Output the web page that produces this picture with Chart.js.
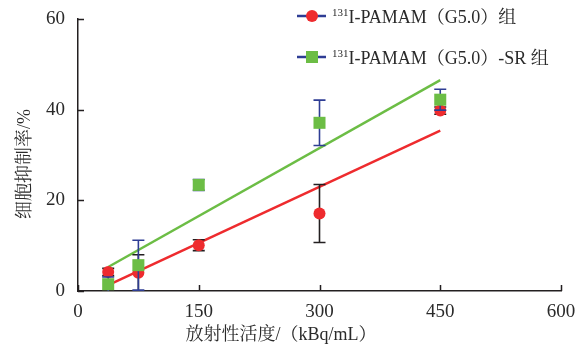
<!DOCTYPE html>
<html>
<head>
<meta charset="utf-8">
<script src="https://cdn.jsdelivr.net/npm/chart.js@4"></script>
<style>
  html, body { margin: 0; padding: 0; background: #fff; }
  #wrap { width: 583px; height: 353px; position: relative; }
</style>
</head>
<body>
<div id="wrap"><canvas id="chart"></canvas></div>
<script>
// activity (kBq/mL)
const doses = [37.5, 75, 150, 300, 450];
const pamamValues = [4.2, 4.0, 10.1, 17.1, 39.8];
const pamamErrors = [0.8, 4.0, 1.2, 6.4, 0.8];
const srValues = [1.5, 5.7, 23.4, 37.1, 42.2];
const srErrors = [1.6, 5.5, 1.2, 5.0, 2.3];
// fitted lines, endpoints
const fitX = [37.5, 450];
const pamamFit = [1.3, 35.4];
const srFit = [5.3, 46.5];
const xTicks = [0, 150, 300, 450, 600];
const yTicks = [0, 20, 40, 60];

const SERIF = "'Liberation Serif', 'Noto Serif CJK SC', 'Noto Sans CJK SC', serif";
const RED = '#ee2b2e';
const GREEN = '#6cbd45';
const BLUE = '#2e3d94';
const DARK = '#231f20';

const toPts = (xs, ys) => xs.map((x, i) => ({ x: x, y: ys[i] }));

// error bars, drawn just before each dataset's markers
const errorBars = {
  id: 'errorBars',
  beforeDatasetDraw(chart, args) {
    const ds = chart.data.datasets[args.index];
    if (!ds.errors) return;
    const ctx = chart.ctx;
    const y = chart.scales.y;
    ctx.save();
    ctx.strokeStyle = ds.errorColor;
    ctx.lineWidth = 1.6;
    args.meta.data.forEach((el, i) => {
      const v = ds.data[i].y, e = ds.errors[i];
      const top = y.getPixelForValue(v + e);
      const bot = Math.min(y.getPixelForValue(Math.max(v - e, 0)), chart.chartArea.bottom);
      ctx.beginPath();
      ctx.moveTo(el.x, top); ctx.lineTo(el.x, bot);
      ctx.moveTo(el.x - 6, top); ctx.lineTo(el.x + 6, top);
      if (v - e > 0) { ctx.moveTo(el.x - 6, bot); ctx.lineTo(el.x + 6, bot); }
      ctx.stroke();
    });
    ctx.restore();
  }
};

// inward ticks, axis titles and the legend
const decorations = {
  id: 'decorations',
  afterDraw(chart) {
    const ctx = chart.ctx;
    const a = chart.chartArea;
    const xs = chart.scales.x, ys = chart.scales.y;
    ctx.save();
    ctx.strokeStyle = DARK;
    ctx.lineWidth = 1.5;
    ctx.beginPath();
    xTicks.forEach(t => {
      const px = Math.round(xs.getPixelForValue(t)) + 0.5;
      ctx.moveTo(px, a.bottom); ctx.lineTo(px, a.bottom - 6);
    });
    yTicks.forEach(t => {
      const py = Math.round(ys.getPixelForValue(t)) + 0.5;
      ctx.moveTo(a.left, py); ctx.lineTo(a.left + 6, py);
    });
    ctx.stroke();

    ctx.fillStyle = '#2a2a2a';
    ctx.font = '18px ' + SERIF;
    ctx.textBaseline = 'middle';
    ctx.textAlign = 'center';
    ctx.fillText('放射性活度/（kBq/mL）', 281, 335);
    ctx.translate(25, 164);
    ctx.rotate(-Math.PI / 2);
    ctx.fillText('细胞抑制率/%', 0, 0);
    ctx.restore();

    // legend
    const items = [
      { label: 'I-PAMAM（G5.0）组', y: 16, style: 'circle', color: RED },
      { label: 'I-PAMAM（G5.0）-SR 组', y: 57, style: 'rect', color: GREEN }
    ];
    ctx.save();
    items.forEach(it => {
      ctx.strokeStyle = BLUE;
      ctx.lineWidth = 2.5;
      ctx.beginPath();
      ctx.moveTo(297, it.y); ctx.lineTo(326, it.y);
      ctx.stroke();
      ctx.fillStyle = it.color;
      ctx.beginPath();
      if (it.style === 'circle') ctx.arc(312, it.y, 6, 0, Math.PI * 2);
      else ctx.rect(306, it.y - 6, 12, 12);
      ctx.fill();
      ctx.fillStyle = '#2a2a2a';
      ctx.textAlign = 'left';
      ctx.textBaseline = 'alphabetic';
      ctx.font = '11px ' + SERIF;
      ctx.fillText('131', 332, it.y);
      const w = ctx.measureText('131').width;
      ctx.font = '18px ' + SERIF;
      ctx.fillText(it.label, 332 + w, it.y + 7);
    });
    ctx.restore();
  }
};

new Chart(document.getElementById('chart'), {
  type: 'scatter',
  data: {
    datasets: [
      {
        label: '131I-PAMAM(G5.0)-SR 组',
        data: toPts(doses, srValues),
        errors: srErrors,
        errorColor: BLUE,
        pointStyle: 'rect',
        pointRadius: 8.5,
        pointHoverRadius: 8.5,
        backgroundColor: GREEN,
        borderWidth: 0,
        showLine: false,
        order: 1
      },
      {
        label: '131I-PAMAM(G5.0)组',
        data: toPts(doses, pamamValues),
        errors: pamamErrors,
        errorColor: DARK,
        pointStyle: 'circle',
        pointRadius: 6,
        pointHoverRadius: 6,
        backgroundColor: RED,
        borderWidth: 0,
        showLine: false,
        order: 2
      },
      {
        label: 'SR fit',
        data: toPts(fitX, srFit),
        showLine: true,
        borderColor: GREEN,
        borderWidth: 2.5,
        pointRadius: 0,
        order: 3
      },
      {
        label: 'PAMAM fit',
        data: toPts(fitX, pamamFit),
        showLine: true,
        borderColor: RED,
        borderWidth: 2.5,
        pointRadius: 0,
        order: 4
      }
    ]
  },
  options: {
    responsive: true,
    maintainAspectRatio: false,
    animation: false,
    layout: { padding: { left: 0, top: 19, right: 22, bottom: 0 } },
    plugins: {
      legend: { display: false },
      tooltip: { enabled: false }
    },
    scales: {
      x: {
        type: 'linear',
        min: 0,
        max: 600,
        afterFit: s => { s.height = 62; },
        afterBuildTicks: s => { s.ticks = xTicks.map(v => ({ value: v })); },
        grid: { display: false },
        border: { display: true, color: DARK, width: 1.5 },
        ticks: { color: '#2a2a2a', padding: 2, font: { family: SERIF, size: 19 }, maxRotation: 0 }
      },
      y: {
        type: 'linear',
        min: 0,
        max: 60,
        afterFit: s => { s.width = 78; },
        afterBuildTicks: s => { s.ticks = yTicks.map(v => ({ value: v })); },
        grid: { display: false },
        border: { display: true, color: DARK, width: 1.5 },
        ticks: { color: '#2a2a2a', padding: 5, font: { family: SERIF, size: 19 } }
      }
    }
  },
  plugins: [errorBars, decorations]
});
</script>
</body>
</html>
